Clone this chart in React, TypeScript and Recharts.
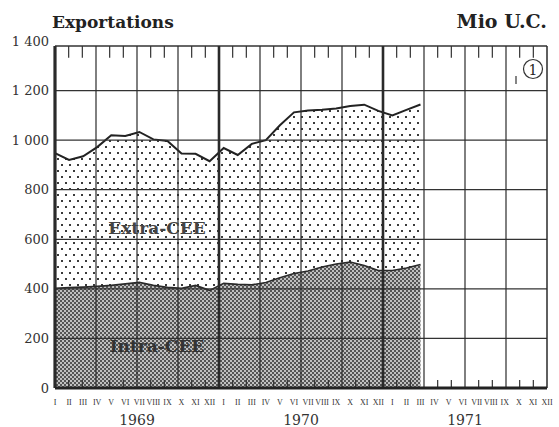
import React from 'react';
import { ComposedChart, Area, XAxis, YAxis, ReferenceLine } from 'recharts';

const MONTHS = ['I', 'II', 'III', 'IV', 'V', 'VI', 'VII', 'VIII', 'IX', 'X', 'XI', 'XII'];
const YEARS = ['1969', '1970', '1971'];
const Y_TICKS = [0, 200, 400, 600, 800, 1000, 1200, 1400];
const GRID_Y = [200, 400, 600, 800, 1000, 1200];
const FRAME_TOP = 1380;

// Total exports (Extra-CEE + Intra-CEE), Mio U.C., Jan 1969 - Mar 1971
const TOTAL = [948, 920, 935, 972, 1020, 1017, 1033, 1003, 997, 946, 945, 915,
  968, 940, 985, 1000, 1060, 1112, 1120, 1123, 1128, 1138, 1143, 1118,
  1100, 1122, 1144];
// Intra-CEE exports
const INTRA = [402, 405, 407, 410, 414, 420, 426, 414, 406, 402, 414, 394,
  422, 418, 416, 426, 445, 462, 472, 488, 500, 508, 494, 474,
  474, 484, 498];

const N_MONTHS = 36;
const data = Array.from({ length: N_MONTHS }, (_, i) => ({
  m: i,
  total: i < TOTAL.length ? TOTAL[i] : null,
  intra: i < INTRA.length ? INTRA[i] : null,
}));

const fmt = (v: number) => String(v).replace(/\B(?=(\d{3})+(?!\d))/g, ' ');

const quarterLines = Array.from({ length: 13 }, (_, k) => k * 3);
const monthTicks = Array.from({ length: N_MONTHS - 1 }, (_, k) => k + 1).filter((j) => j % 3 !== 0);

const SERIF = 'DejaVu Serif';

export default function App() {
  return (
    <div style={{ position: 'absolute', left: 0, top: 0, width: 559, height: 427, background: '#fff' }}>
      <ComposedChart
        width={559}
        height={427}
        data={data}
        margin={{ top: 41, right: 12, bottom: 0, left: 0 }}
      >
        <defs>
          <pattern id="extraPat" width="8" height="12" patternUnits="userSpaceOnUse">
            <rect width="8" height="12" fill="#ffffff" />
            <rect x="1" y="2" width="2" height="2" fill="#3a3a3a" />
            <rect x="5" y="8" width="2" height="2" fill="#3a3a3a" />
          </pattern>
          <pattern id="intraPat" width="4" height="4" patternUnits="userSpaceOnUse">
            <rect width="4" height="4" fill="#c0c0c0" />
            <rect x="0" y="0" width="2" height="2" fill="#555555" />
            <rect x="2" y="2" width="2" height="2" fill="#555555" />
          </pattern>
        </defs>
        <XAxis xAxisId="pt" dataKey="m" type="category" scale="point" hide padding={{ left: 0, right: 0 }} />
        <XAxis
          xAxisId="mon"
          dataKey="m"
          type="category"
          interval={0}
          tickFormatter={(v: number) => MONTHS[v % 12]}
          tickLine={false}
          axisLine={{ stroke: '#222', strokeWidth: 3 }}
          tickSize={0}
          tickMargin={11}
          height={20}
          tick={{ fontSize: 8, fontFamily: 'Liberation Serif', fill: '#333' }}
        />
        <XAxis
          xAxisId="num"
          dataKey="m"
          type="number"
          domain={[0, N_MONTHS]}
          ticks={[6, 18, 30]}
          tickFormatter={(_v: number, i: number) => YEARS[i]}
          axisLine={false}
          tickLine={false}
          tickSize={0}
          tickMargin={7}
          height={19}
          allowDataOverflow
          tick={{ fontSize: 14, fontFamily: SERIF, fill: '#333' }}
        />
        <YAxis
          domain={[0, 1400]}
          ticks={Y_TICKS}
          tickFormatter={fmt}
          axisLine={false}
          tickLine={false}
          tickSize={0}
          tickMargin={6}
          width={55}
          tick={{ fontSize: 13, fontFamily: SERIF, fill: '#333' }}
        />
        <Area
          xAxisId="pt"
          dataKey="total"
          type="linear"
          stroke="#222"
          strokeWidth={2}
          fill="url(#extraPat)"
          fillOpacity={1}
          isAnimationActive={false}
          dot={false}
          activeDot={false}
        />
        <Area
          xAxisId="pt"
          dataKey="intra"
          type="linear"
          stroke="#2a2a2a"
          strokeWidth={1.6}
          fill="url(#intraPat)"
          fillOpacity={1}
          isAnimationActive={false}
          dot={false}
          activeDot={false}
        />
        {GRID_Y.map((y) => (
          <ReferenceLine key={'h' + y} xAxisId="num" y={y} stroke="#333" strokeWidth={1.2} />
        ))}
        <ReferenceLine xAxisId="num" y={FRAME_TOP} stroke="#333" strokeWidth={1.5} />
        {quarterLines.map((q) => (
          <ReferenceLine
            key={'v' + q}
            xAxisId="num"
            segment={[{ x: q, y: 0 }, { x: q, y: FRAME_TOP }]}
            stroke="#2a2a2a"
            strokeWidth={q === 0 ? 3.2 : q === 12 || q === 24 ? 2.6 : q === 36 ? 1.5 : 1.2}
          />
        ))}
        {monthTicks.map((j) => (
          <ReferenceLine
            key={'tt' + j}
            xAxisId="num"
            segment={[{ x: j, y: FRAME_TOP }, { x: j, y: FRAME_TOP - 48 }]}
            stroke="#333"
            strokeWidth={1.2}
          />
        ))}
        {monthTicks.map((j) => (
          <ReferenceLine
            key={'bt' + j}
            xAxisId="num"
            segment={[{ x: j, y: 0 }, { x: j, y: 32 }]}
            stroke="#333"
            strokeWidth={1.2}
          />
        ))}
      </ComposedChart>
      <svg width={559} height={427} style={{ position: 'absolute', left: 0, top: 0, pointerEvents: 'none' }}>
        <text x={52} y={28} fontFamily={SERIF} fontWeight="bold" fontSize={17} fill="#222">Exportations</text>
        <text x={547} y={28} textAnchor="end" fontFamily={SERIF} fontWeight="bold" fontSize={19} fill="#222">Mio U.C.</text>
        <text x={157} y={234} textAnchor="middle" fontFamily={SERIF} fontWeight="bold" fontSize={17} fill="#444">Extra-CEE</text>
        <text x={157} y={352} textAnchor="middle" fontFamily={SERIF} fontWeight="bold" fontSize={17} fill="#333">Intra-CEE</text>
        <circle cx={533} cy={69} r={9.5} fill="#fff" stroke="#333" strokeWidth={1.2} />
        <text x={533} y={74.5} textAnchor="middle" fontFamily={SERIF} fontSize={14} fill="#222">1</text>
        <line x1={516} y1={76} x2={516} y2={84} stroke="#333" strokeWidth={1.2} />
      </svg>
    </div>
  );
}
